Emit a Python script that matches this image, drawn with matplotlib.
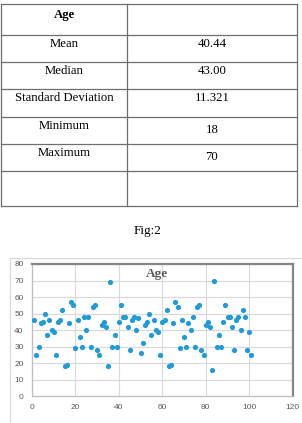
import matplotlib.pyplot as plt
from matplotlib.patches import Rectangle

# summary table
stat_names = ["Mean", "Median", "Standard Deviation", "Minimum", "Maximum"]
stat_values = ["40.44", "43.00", "11.321", "18", "70"]

# scatter data (observation number vs age)
ages = [46, 25, 30, 44, 45, 50, 37, 46, 40, 39,
        25, 45, 46, 52, 18, 19, 44, 57, 55, 29,
        46, 36, 30, 48, 40, 48, 30, 54, 55, 28,
        25, 43, 45, 42, 18, 69, 30, 37, 30, 45,
        55, 48, 48, 42, 28, 46, 48, 40, 47, 26,
        32, 43, 45, 50, 37, 46, 40, 39, 25, 45,
        46, 52, 18, 19, 44, 57, 54, 29, 46, 36,
        30, 44, 40, 48, 30, 54, 55, 28, 25, 43,
        45, 42, 16, 70, 30, 37, 30, 45, 55, 48,
        48, 42, 28, 46, 48, 40, 52, 48, 28, 39,
        25]
obs = list(range(1, len(ages) + 1))

W, H = 302, 423
fig = plt.figure(figsize=(W / 100, H / 100), dpi=100)

# background axes in pixel coordinates for the table and caption
bg = fig.add_axes([0, 0, 1, 1])
bg.set_xlim(0, W)
bg.set_ylim(H, 0)
bg.axis("off")

serif = "Liberation Serif"
row_lines = [4, 35, 62, 89, 117, 144, 171, 206]
line_col = "#6e6e6e"
for y in row_lines:
    bg.plot([1, 297], [y, y], color=line_col, lw=0.9)
for x in [1, 127, 297]:
    bg.plot([x, x], [4, 206], color=line_col, lw=0.9)

bg.text(64, 15, "Age", ha="center", va="center", fontsize=9.2,
        fontweight="bold", family=serif)
name_y = [44, 71, 98, 126, 153]
value_y = [44, 71, 98, 130, 157]
for name, val, ny, vy in zip(stat_names, stat_values, name_y, value_y):
    bg.text(64, ny, name, ha="center", va="center", fontsize=9.2, family=serif)
    bg.text(212, vy, val, ha="center", va="center", fontsize=9.2, family=serif)

bg.text(148, 231, "Fig:2", ha="center", va="center", fontsize=9.5, family=serif)

# chart border
bg.add_patch(Rectangle((10, 258), 300, 200, fill=False, edgecolor="#d9d9d9", lw=0.9))

# scatter chart
left, right, top, bottom = 32, 292.7, 264, 396
ax = fig.add_axes([left / W, 1 - bottom / H, (right - left) / W, (bottom - top) / H])
ax.scatter(obs, ages, s=14, color="#1f9bd7", zorder=3, linewidths=0)
ax.set_xlim(0, 120)
ax.set_ylim(0, 80)
ax.set_xticks(range(0, 121, 20))
ax.set_yticks(range(0, 81, 10))
ax.grid(True, color="#d9d9d9", lw=0.8)
ax.set_axisbelow(True)
ax.tick_params(length=0, labelsize=6, labelcolor="#595959", pad=6)
for lab in ax.get_xticklabels() + ax.get_yticklabels():
    lab.set_family("Liberation Sans")
for side in ["left", "bottom"]:
    ax.spines[side].set_color("#bfbfbf")
    ax.spines[side].set_linewidth(0.9)
for side in ["top", "right"]:
    ax.spines[side].set_color("#858585")
    ax.spines[side].set_linewidth(1.6)
ax.text(0.48, 0.925, "Age", transform=ax.transAxes, ha="center", va="center",
        fontsize=9.5, fontweight="bold", color="#595959", family=serif)

fig.savefig("out.png", dpi=100)
